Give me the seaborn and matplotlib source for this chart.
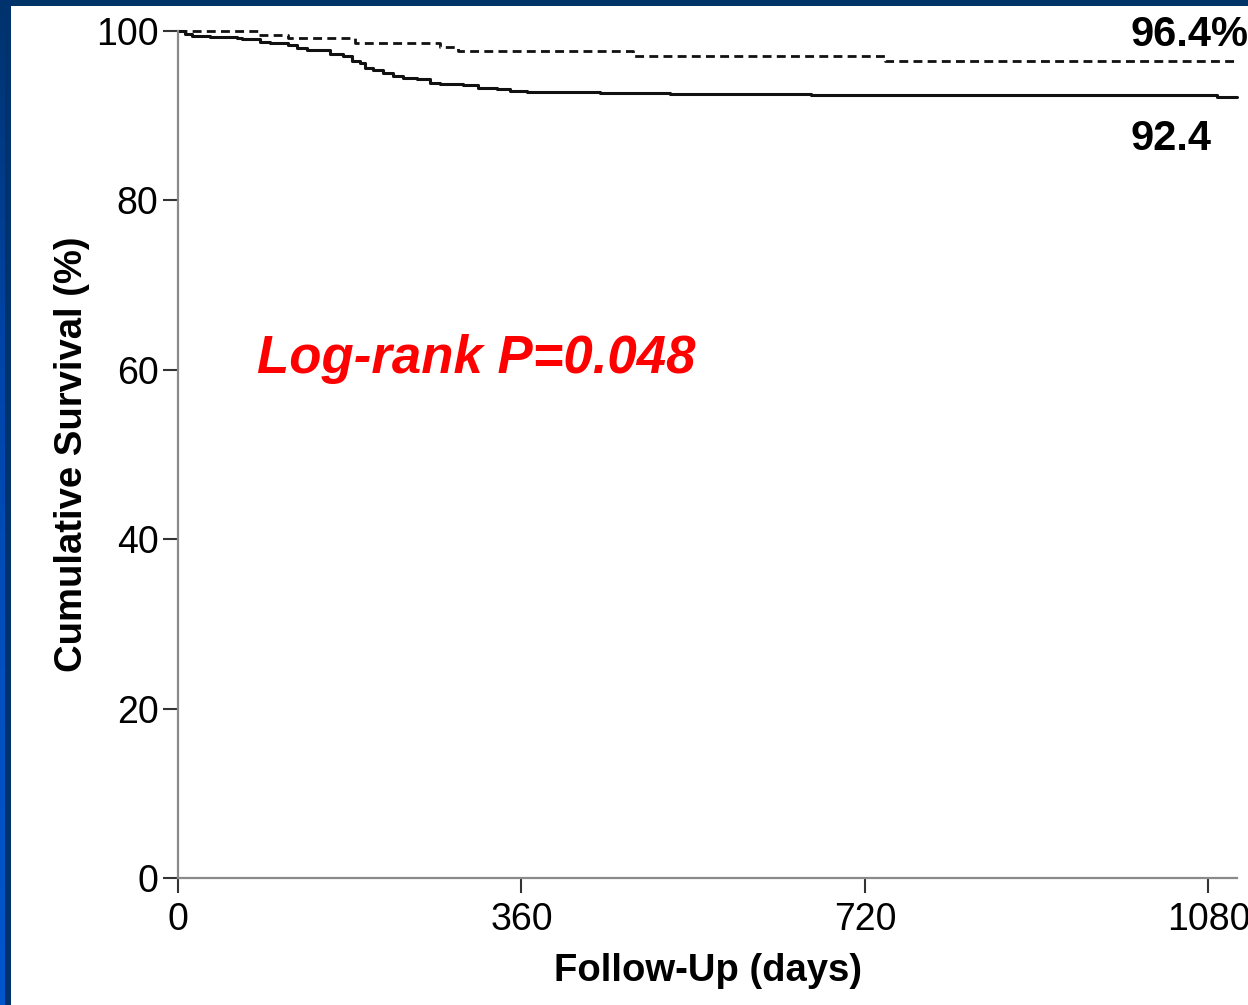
import numpy as np
import pandas as pd
import matplotlib
matplotlib.use("Agg")
import matplotlib.pyplot as plt
from matplotlib.patches import Rectangle
from matplotlib.colors import LinearSegmentedColormap
import seaborn as sns

# Kaplan-Meier step data (days, cumulative survival %)
days_solid = [0, 7, 15, 34, 62, 67, 86, 96, 115, 125, 135, 159, 173, 182, 191, 196,
              204, 215, 225, 236, 251, 264, 275, 299, 314, 334, 348, 366, 442, 516,
              663, 1089, 1110]
surv_solid = [100, 99.6, 99.4, 99.3, 99.2, 99.0, 98.75, 98.6, 98.3, 98.0, 97.7, 97.3,
              97.0, 96.5, 96.2, 95.65, 95.4, 95.0, 94.7, 94.5, 94.3, 93.9, 93.8, 93.6,
              93.3, 93.1, 92.95, 92.8, 92.7, 92.55, 92.4, 92.15, 92.15]

days_dashed = [0, 84, 115, 186, 275, 293, 477, 741, 1108]
surv_dashed = [100, 99.55, 99.2, 98.6, 98.1, 97.6, 97.1, 96.4, 96.4]

x_ticks = [0, 360, 720, 1080]
y_ticks = [0, 20, 40, 60, 80, 100]
label_dashed = "96.4%"
label_solid = "92.4"
pvalue_text = "Log-rank P=0.048"

df_solid = pd.DataFrame({"day": days_solid, "surv": surv_solid})
df_dashed = pd.DataFrame({"day": days_dashed, "surv": surv_dashed})

sns.set_theme(style="white")
plt.rcParams["font.family"] = ["Liberation Sans", "DejaVu Sans"]

W, H = 1248, 1005
fig = plt.figure(figsize=(W / 100, H / 100), dpi=100, facecolor="white")

# slide frame: dark top band, dark left band and a blue gradient strip at the edge
fig.patches.append(Rectangle((0, 1 - 6 / H), 1, 6 / H, transform=fig.transFigure,
                             facecolor="#003366", edgecolor="none", zorder=0))
fig.patches.append(Rectangle((0, 0), 11 / W, 1, transform=fig.transFigure,
                             facecolor="#00336e", edgecolor="none", zorder=0))
gax = fig.add_axes([0, 0, 5 / W, 1 - 6 / H], zorder=5)
grad = np.linspace(0, 1, 256).reshape(-1, 1)
cmap = LinearSegmentedColormap.from_list("edge", ["#00336e", "#0044a6", "#0050c0", "#0056cc"])
gax.imshow(grad, aspect="auto", cmap=cmap, origin="upper", interpolation="bilinear")
gax.set_axis_off()

ax = fig.add_axes([178 / W, 1 - 878 / H, (1237 - 178) / W, (878 - 31) / H], zorder=2)
ax.set_facecolor("white")

sns.lineplot(data=df_dashed, x="day", y="surv", ax=ax, color="#111111",
             linewidth=2.0, linestyle=(0, (3.2, 1.9)), drawstyle="steps-post",
             estimator=None, sort=False, clip_on=False)
sns.lineplot(data=df_solid, x="day", y="surv", ax=ax, color="#111111",
             linewidth=2.2, drawstyle="steps-post",
             estimator=None, sort=False, clip_on=False)

ax.set_xlim(0, 1110)
ax.set_ylim(0, 100)
ax.set_xticks(x_ticks)
ax.set_yticks(y_ticks)
ax.tick_params(axis="both", which="major", direction="out", length=11, width=1.5,
               color="#333333", labelsize=27, labelcolor="black",
               bottom=True, left=True)
ax.tick_params(axis="x", pad=6)
ax.tick_params(axis="y", pad=3)

for side in ["top", "right"]:
    ax.spines[side].set_visible(False)
for side in ["left", "bottom"]:
    ax.spines[side].set_color("#8a8a8a")
    ax.spines[side].set_linewidth(1.6)

ax.set_xlabel("Follow-Up (days)", fontsize=27.5, fontweight="bold", labelpad=11,
              color="black")
ax.set_ylabel("Cumulative Survival (%)", fontsize=27.5, fontweight="bold", labelpad=4,
              color="black")

ax.text(998, 98.2, label_dashed, fontsize=30, fontweight="bold", ha="left",
        va="baseline", color="black", clip_on=False)
ax.text(998, 85.9, label_solid, fontsize=30, fontweight="bold", ha="left",
        va="baseline", color="black", clip_on=False)
ax.text(83, 59.6, pvalue_text, fontsize=38, fontweight="bold", fontstyle="italic",
        ha="left", va="baseline", color="#ff0000")

fig.savefig("out.png", dpi=100, facecolor="white")
